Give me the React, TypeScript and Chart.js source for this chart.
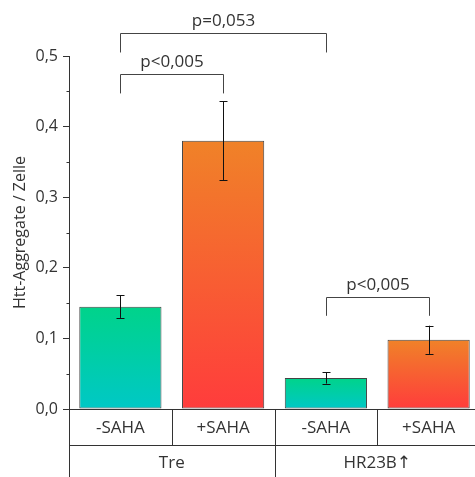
import React, { useEffect, useRef } from 'react';
import { Chart, registerables } from 'chart.js';

Chart.register(...registerables);

const categories = ['-SAHA', '+SAHA', '-SAHA', '+SAHA'];
const groups = ['Tre', 'HR23B↑'];
const groupSpans = [2, 2];
const values = [0.145, 0.38, 0.044, 0.098];
const errors = [0.016, 0.056, 0.008, 0.02];
const yTicks = [0, 0.1, 0.2, 0.3, 0.4, 0.5];
const yMinorTicks = [0.05, 0.15, 0.25, 0.35, 0.45];
const yLabel = 'Htt-Aggregate / Zelle';
const bracketFrom = [0, 0, 2];
const bracketTo = [1, 2, 3];
const bracketLevel = [0.475, 0.533, 0.159];
const bracketLeg = [0.447, 0.505, 0.132];
const bracketText = ['p<0,005', 'p=0,053', 'p<0,005'];

const FONT = "'Open Sans', 'Noto Sans', 'DejaVu Sans', sans-serif";
const TEXT = '#333333';
const LINE = '#333333';

const topColors = ['#00d38a', '#f08228', '#00d38a', '#f08228'];
const bottomColors = ['#00c8c6', '#ff3c3c', '#00c8c6', '#ff3c3c'];

const decorPlugin = {
  id: 'decor',
  afterDatasetsDraw(chart: any) {
    const ctx = chart.ctx;
    const x = chart.scales.x;
    const y = chart.scales.y;
    const area = chart.chartArea;
    const meta = chart.getDatasetMeta(0);
    ctx.save();
    // error bars
    ctx.strokeStyle = '#111';
    ctx.lineWidth = 1;
    meta.data.forEach((bar: any, i: number) => {
      const cx = Math.round(bar.x) + 0.5;
      const yt = y.getPixelForValue(values[i] + errors[i]);
      const yb = y.getPixelForValue(values[i] - errors[i]);
      ctx.beginPath();
      ctx.moveTo(cx, yt);
      ctx.lineTo(cx, yb);
      ctx.moveTo(cx - 4, Math.round(yt) + 0.5);
      ctx.lineTo(cx + 4, Math.round(yt) + 0.5);
      ctx.moveTo(cx - 4, Math.round(yb) + 0.5);
      ctx.lineTo(cx + 4, Math.round(yb) + 0.5);
      ctx.stroke();
    });
    // brackets
    ctx.strokeStyle = '#444';
    ctx.fillStyle = TEXT;
    ctx.font = `17px ${FONT}`;
    ctx.textAlign = 'center';
    ctx.textBaseline = 'bottom';
    bracketText.forEach((t, i) => {
      const x1 = Math.round(meta.data[bracketFrom[i]].x) + 0.5;
      const x2 = Math.round(meta.data[bracketTo[i]].x) + 0.5;
      const yl = Math.round(y.getPixelForValue(bracketLevel[i])) + 0.5;
      const yg = y.getPixelForValue(bracketLeg[i]);
      ctx.beginPath();
      ctx.moveTo(x1, yg);
      ctx.lineTo(x1, yl);
      ctx.lineTo(x2, yl);
      ctx.lineTo(x2, yg);
      ctx.stroke();
      ctx.fillText(t, (x1 + x2) / 2, yl - 4);
    });

    // minor ticks
    ctx.strokeStyle = LINE;
    const ax = Math.round(area.left) + 0.5;
    yMinorTicks.forEach((v) => {
      const py = Math.round(y.getPixelForValue(v)) + 0.5;
      ctx.beginPath();
      ctx.moveTo(ax - 3, py);
      ctx.lineTo(ax, py);
      ctx.stroke();
    });

    // table below
    const W = chart.width;
    const H = chart.height;
    const yAxis = Math.round(area.bottom) + 0.5;
    const row = Math.round(area.bottom + 36) + 0.5;
    const slot = (area.right - area.left) / categories.length;
    ctx.strokeStyle = LINE;
    ctx.beginPath();
    ctx.moveTo(ax, area.top);
    ctx.lineTo(ax, H);
    ctx.moveTo(ax, yAxis);
    ctx.lineTo(W, yAxis);
    ctx.moveTo(ax, row);
    ctx.lineTo(W, row);
    for (let i = 1; i < categories.length; i++) {
      const bx = Math.round(area.left + slot * i) + 0.5;
      ctx.moveTo(bx, yAxis);
      ctx.lineTo(bx, row);
    }
    let acc = 0;
    groupSpans.forEach((s, gi) => {
      acc += s;
      if (gi < groupSpans.length - 1) {
        const bx = Math.round(area.left + slot * acc) + 0.5;
        ctx.moveTo(bx, row);
        ctx.lineTo(bx, H);
      }
    });
    ctx.stroke();

    ctx.fillStyle = TEXT;
    ctx.font = `17px ${FONT}`;
    ctx.textBaseline = 'middle';
    ctx.textAlign = 'center';
    categories.forEach((c, i) => {
      ctx.fillText(c, x.getPixelForValue(i), area.bottom + 19);
    });
    let start = 0;
    groupSpans.forEach((s, gi) => {
      const cx = area.left + slot * (start + s / 2);
      ctx.fillText(groups[gi], cx, area.bottom + 54);
      start += s;
    });

    // y label
    ctx.font = `16px ${FONT}`;
    ctx.save();
    ctx.translate(20, (area.top + area.bottom) / 2);
    ctx.rotate(-Math.PI / 2);
    ctx.fillText(yLabel, 0, 0);
    ctx.restore();

    ctx.restore();
  },
};

export default function App() {
  const ref = useRef<HTMLCanvasElement>(null);
  useEffect(() => {
    const canvas = ref.current;
    if (!canvas) return;
    const chart = new Chart(canvas, {
      type: 'bar',
      data: {
        labels: categories,
        datasets: [
          {
            data: values,
            backgroundColor: (c: any) => {
              const ch = c.chart;
              const i = c.dataIndex ?? 0;
              if (!ch.chartArea || !ch.scales?.y) return topColors[i];
              const ys = ch.scales.y;
              const top = ys.getPixelForValue(values[i]);
              const bot = ys.getPixelForValue(0);
              const g = ch.ctx.createLinearGradient(0, top, 0, bot);
              g.addColorStop(0, topColors[i]);
              g.addColorStop(1, bottomColors[i]);
              return g;
            },
            borderColor: '#444',
            borderWidth: 1,
            borderSkipped: false,
            barPercentage: 0.8,
            categoryPercentage: 1,
          },
        ],
      },
      options: {
        responsive: false,
        animation: false,
        layout: { padding: { top: 56, bottom: 68, left: 0, right: 1 } },
        plugins: { legend: { display: false }, tooltip: { enabled: false } },
        scales: {
          x: { display: false, offset: true },
          y: {
            min: 0,
            max: 0.5,
            afterFit: (s: any) => {
              s.width = 69;
            },
            afterBuildTicks: (s: any) => {
              s.ticks = yTicks.map((v) => ({ value: v }));
            },
            ticks: {
              padding: 5,
              color: TEXT,
              font: { family: FONT, size: 16 },
              callback: (v: any) => Number(v).toFixed(1).replace('.', ','),
            },
            grid: { drawOnChartArea: false, tickLength: 6, color: LINE },
            border: { display: true, color: LINE },
          },
        },
      },
      plugins: [decorPlugin],
    });
    return () => chart.destroy();
  }, []);
  return (
    <div style={{ position: 'absolute', left: 0, top: 0, width: 475, height: 477, overflow: 'hidden', background: '#fff' }}>
      <canvas ref={ref} width={481} height={477} style={{ display: 'block' }} />
    </div>
  );
}
